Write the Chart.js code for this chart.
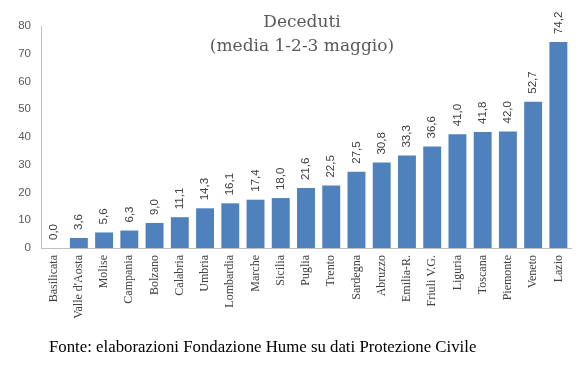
<!DOCTYPE html>
<html>
<head>
<meta charset="utf-8">
<script src="https://cdn.jsdelivr.net/npm/chart.js@4/dist/chart.umd.min.js"></script>
<style>
  body { margin: 0; background: #fff; }
  #wrap { position: relative; width: 583px; height: 368px; }
  #title { position: absolute; left: 0; width: 604px; top: 9px; text-align: center;
    font-family: "DejaVu Serif", serif; font-size: 17px; line-height: 24px; color: #595959; }
  #source { position: absolute; left: 49px; top: 337px; white-space: nowrap;
    font-family: "Liberation Serif", serif; font-size: 16.8px; color: #000; }
</style>
</head>
<body>
<div id="wrap">
  <canvas id="bar-chart" width="583" height="368"></canvas>
  <div id="title">Deceduti<br>(media 1-2-3 maggio)</div>
  <div id="source">Fonte: elaborazioni Fondazione Hume su dati Protezione Civile</div>
</div>
<script>
var regioni = ["Basilicata", "Valle d'Aosta", "Molise", "Campania", "Bolzano", "Calabria", "Umbria",
  "Lombardia", "Marche", "Sicilia", "Puglia", "Trento", "Sardegna", "Abruzzo", "Emilia-R.",
  "Friuli V.G.", "Liguria", "Toscana", "Piemonte", "Veneto", "Lazio"];
var deceduti = [0.0, 3.6, 5.6, 6.3, 9.0, 11.1, 14.3, 16.1, 17.4, 18.0, 21.6, 22.5, 27.5, 30.8,
  33.3, 36.6, 41.0, 41.8, 42.0, 52.7, 74.2];
var yMax = 80, yStep = 10;

// etichette dei valori ruotate sopra le barre
var valueLabels = {
  id: 'valueLabels',
  afterDatasetsDraw: function (chart) {
    var ctx = chart.ctx;
    var meta = chart.getDatasetMeta(0);
    ctx.save();
    ctx.font = '11.5px "Liberation Sans", sans-serif';
    ctx.fillStyle = '#404040';
    ctx.textAlign = 'left';
    ctx.textBaseline = 'middle';
    meta.data.forEach(function (bar, i) {
      ctx.save();
      ctx.translate(bar.x, bar.y - 8);
      ctx.rotate(-Math.PI / 2);
      ctx.fillText(deceduti[i].toFixed(1).replace('.', ','), 0, 0);
      ctx.restore();
    });
    ctx.restore();
  }
};

new Chart(document.getElementById('bar-chart'), {
  type: 'bar',
  data: {
    labels: regioni,
    datasets: [{
      data: deceduti,
      backgroundColor: '#4f81bd',
      barPercentage: 0.71,
      categoryPercentage: 1
    }]
  },
  options: {
    responsive: false,
    animation: false,
    layout: { padding: { left: 0, right: 12, top: 26, bottom: 0 } },
    plugins: { legend: { display: false }, tooltip: { enabled: false } },
    scales: {
      x: {
        grid: { display: false, drawTicks: false },
        border: { display: true, color: '#bfbfbf', width: 1 },
        afterFit: function (s) { s.height = 120; },
        ticks: {
          minRotation: 90, maxRotation: 90, padding: 7, autoSkip: false,
          color: '#404040',
          font: { family: '"Liberation Serif", serif', size: 12 }
        }
      },
      y: {
        min: 0, max: yMax,
        grid: { display: false, drawTicks: false },
        border: { display: true, color: '#bfbfbf', width: 1 },
        afterFit: function (s) { s.width = 41; },
        ticks: {
          stepSize: yStep, padding: 10, color: '#595959',
          font: { family: '"Liberation Sans", sans-serif', size: 11.5 }
        }
      }
    }
  },
  plugins: [valueLabels]
});
</script>
</body>
</html>
